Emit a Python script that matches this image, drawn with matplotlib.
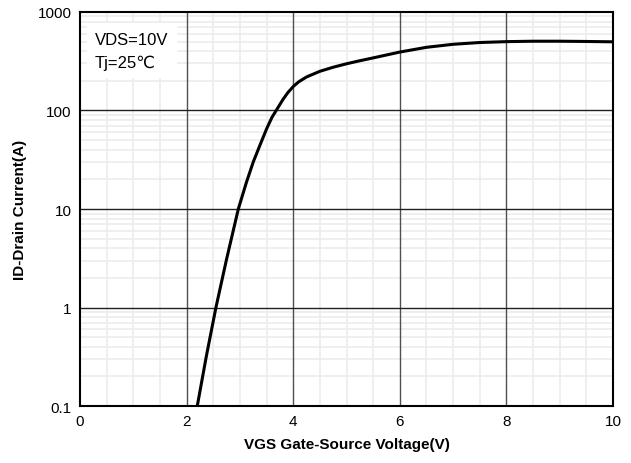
import matplotlib
matplotlib.use("Agg")
import matplotlib.pyplot as plt
from matplotlib.ticker import FixedLocator, NullFormatter, FixedFormatter

vgs = [2.2, 2.37, 2.55, 2.75, 2.97, 3.12, 3.25, 3.38, 3.5, 3.6, 3.68, 3.81, 3.9,
       4.0, 4.1, 4.25, 4.5, 4.75, 5.0, 5.25, 5.5, 6.0, 6.5, 7.0, 7.5, 8.0,
       8.5, 9.0, 9.5, 10.0]
id_a = [0.1, 0.32, 1.0, 3.1, 10, 18.5, 30, 45, 65, 85, 100, 130, 152,
        175, 195, 219, 250, 275, 298, 320, 342, 392, 438, 470, 490, 500,
        505, 505, 502, 498]
x_ticks = [0, 2, 4, 6, 8, 10]
x_minor = [0.5, 1, 1.5, 2.5, 3, 3.5, 4.5, 5, 5.5, 6.5, 7, 7.5, 8.5, 9, 9.5]
y_ticks = [0.1, 1, 10, 100, 1000]
y_tick_labels = ["0.1", "1", "10", "100", "1000"]
y_minor = [m * d for d in (0.1, 1, 10, 100) for m in range(2, 10)]

plt.rcParams['font.family'] = ['Liberation Sans', 'DejaVu Sans']

fig = plt.figure(figsize=(6.31, 4.64), dpi=100)
ax = fig.add_axes([0.1268, 0.1228, 0.8447, 0.8492])
ax.set_yscale('log')
ax.set_xlim(0, 10)
ax.set_ylim(0.1, 1000)

ax.xaxis.set_major_locator(FixedLocator(x_ticks))
ax.xaxis.set_minor_locator(FixedLocator(x_minor))
ax.yaxis.set_major_locator(FixedLocator(y_ticks))
ax.yaxis.set_major_formatter(FixedFormatter(y_tick_labels))
ax.yaxis.set_minor_locator(FixedLocator(y_minor))
ax.yaxis.set_minor_formatter(NullFormatter())

ax.grid(which='minor', color='#ececec', lw=1.2)
ax.set_axisbelow(True)
for xv in x_ticks[1:-1]:
    ax.axvline(xv, color='#505050', lw=1.0, zorder=1.5)
for yv in y_ticks[1:-1]:
    ax.axhline(yv, color='#202020', lw=1.0, zorder=1.5)

ax.tick_params(which='both', length=0, labelsize=11, pad=6)

ax.plot(vgs, id_a, color='black', lw=2.2, solid_joinstyle='round', zorder=3)

for s in ax.spines.values():
    s.set_color('black')
    s.set_linewidth(1.5)

ax.text(0.028, 0.95, "VDS=10V\nTj=25℃", transform=ax.transAxes, fontsize=12,
        va='top', ha='left', linespacing=1.6, zorder=2,
        bbox=dict(facecolor='white', edgecolor='none', pad=6))

ax.set_xlabel("VGS Gate-Source Voltage(V)", fontsize=11, fontweight='bold', labelpad=6)
ax.set_ylabel("ID-Drain Current(A)", fontsize=11, fontweight='bold', labelpad=8)

fig.savefig("out.png", dpi=100)
